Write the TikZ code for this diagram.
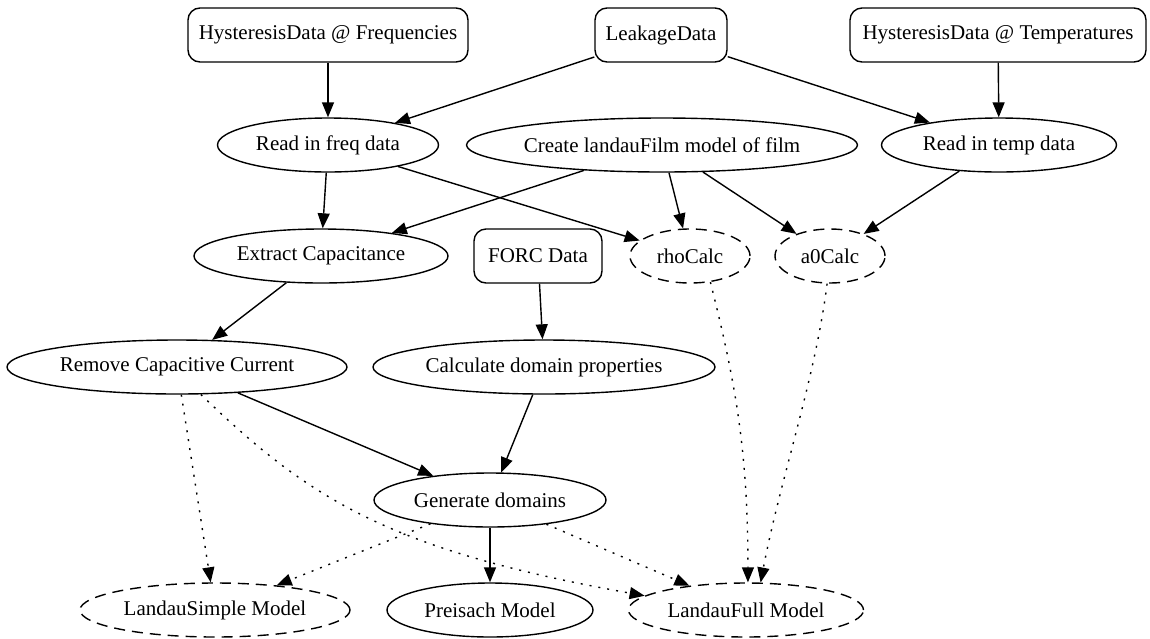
\documentclass[tikz,border=0pt]{standalone}
\usepackage{fontspec}
\setmainfont{Liberation Serif}
\usetikzlibrary{arrows.meta,shapes.geometric}
\begin{document}
\begin{tikzpicture}[x=1pt,y=-1pt,
  every node/.style={font=\fontsize{21}{25}\selectfont, text=black},
  gbox/.style={draw, rounded corners=12pt, minimum height=54pt, inner sep=0pt, line width=1.4pt},
  gell/.style={draw, ellipse, minimum height=54pt, inner sep=0pt, line width=1.4pt},
  gdash/.style={gell, dash pattern=on 11pt off 7pt},
  arr/.style={line width=1.4pt, -{Triangle[length=15pt,width=12pt]}},
  dotarr/.style={arr, dash pattern=on 2pt off 7pt},
]
\useasboundingbox (0,0) rectangle (1150,638);

\node[gbox, minimum width=280pt] (hf) at (328,35) {HysteresisData @ Frequencies};
\node[gbox, minimum width=132pt] (leak) at (661,35) {LeakageData};
\node[gbox, minimum width=296pt] (ht) at (998,35) {HysteresisData @ Temperatures};
\node[gell, minimum width=221pt] (freq) at (328,145) {Read in freq data};
\node[gell, minimum width=388pt] (create) at (662,145) {Create landauFilm model of film};
\node[gell, minimum width=235pt] (temp) at (999,145) {Read in temp data};
\node[gell, minimum width=254pt] (extract) at (321,256) {Extract Capacitance};
\node[gbox, minimum width=128pt] (forc) at (538,256) {FORC Data};
\node[gdash, minimum width=120pt] (rho) at (690,256) {rhoCalc};
\node[gdash, minimum width=110pt] (a0) at (830,256) {a0Calc};
\node[gell, minimum width=340pt] (remove) at (177,367) {Remove Capacitive Current};
\node[gell, minimum width=342pt] (calc) at (544,367) {Calculate domain properties};
\node[gell, minimum width=232pt] (gen) at (490,500) {Generate domains};
\node[gdash, minimum width=270pt] (simple) at (215,610) {LandauSimple Model};
\node[gell, minimum width=206pt] (preisach) at (490,610) {Preisach Model};
\node[gdash, minimum width=235pt] (full) at (746,610) {LandauFull Model};

\draw[arr] (hf) -- (freq);
\draw[arr] (leak) -- (freq);
\draw[arr] (leak) -- (temp);
\draw[arr] (ht) -- (temp);
\draw[arr] (freq) -- (extract);
\draw[arr] (freq) -- (rho);
\draw[arr] (create) -- (extract);
\draw[arr] (create) -- (rho);
\draw[arr] (create) -- (a0);
\draw[arr] (temp) -- (a0);
\draw[arr] (extract) -- (remove);
\draw[arr] (forc) -- (calc);
\draw[arr] (remove) -- (gen);
\draw[arr] (calc) -- (gen);
\draw[arr] (gen) -- (preisach);
\draw[dotarr] (remove) -- (simple);
\draw[dotarr] (remove.-49) .. controls (310,500) and (390,550) .. (full.172);
\draw[dotarr] (gen) -- (simple);
\draw[dotarr] (gen) -- (full);
\draw[dotarr] (rho.-52) .. controls (735,380) and (748,450) .. (full.86);
\draw[dotarr] (a0.-96) .. controls (815,380) and (780,480) .. (full.62);
\end{tikzpicture}
\end{document}
